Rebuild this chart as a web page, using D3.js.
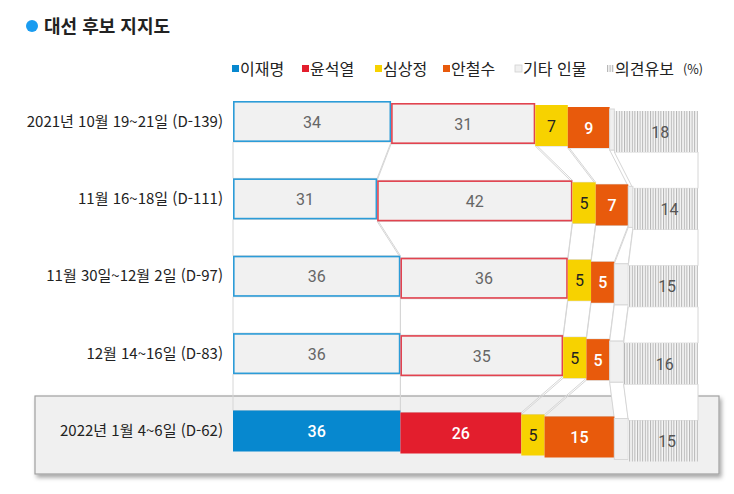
<!DOCTYPE html>
<html lang="ko">
<head>
<meta charset="UTF-8">
<title>대선 후보 지지도</title>
<script src="https://d3js.org/d3.v7.min.js"></script>
<style>
  body { margin: 0; background: #fff; }
  svg text { font-family: "Noto Sans CJK KR", "Noto Sans", sans-serif; }
  .num { font-family: Roboto, "Noto Sans", sans-serif; font-size: 16px; }
</style>
</head>
<body>
<svg id="chart" width="734" height="494"></svg>
<script>
  // survey periods (rows)
  const periods = [
    "2021년 10월 19~21일 (D-139)",
    "11월 16~18일 (D-111)",
    "11월 30일~12월 2일 (D-97)",
    "12월 14~16일 (D-83)",
    "2022년 1월 4~6일 (D-62)"
  ];
  const candidates = ["이재명", "윤석열", "심상정", "안철수", "기타 인물", "의견유보"];

  // values in %
  const lee = [34, 31, 36, 36, 36];
  const yoon = [31, 42, 36, 35, 26];
  const sim = [7, 5, 5, 5, 5];
  const ahn = [9, 7, 5, 5, 15];
  const others = [1, 1, 3, 3, 3];
  const undecided = [18, 14, 15, 16, 15];

  const table = periods.map((p, i) => ({
    period: p,
    "이재명": lee[i], "윤석열": yoon[i], "심상정": sim[i],
    "안철수": ahn[i], "기타 인물": others[i], "의견유보": undecided[i]
  }));

  const svg = d3.select("#chart");
  const barH = 41;
  const step = 2; // each segment drops a little (stair look)
  const last = periods.length - 1;

  const x = d3.scaleLinear().domain([0, 100]).range([233, 698]);
  const y = d3.scalePoint().domain(periods).range([101, 410.5]);

  const stacked = d3.stack().keys(candidates)(table);

  const solid = { "이재명": "#0788cf", "윤석열": "#e31e2d", "심상정": "#f7d200", "안철수": "#e85a0c" };
  const edge = { "이재명": "#2c9cd8", "윤석열": "#e2434f" };

  const defs = svg.append("defs");
  const pat = defs.append("pattern")
    .attr("id", "hatch")
    .attr("patternUnits", "userSpaceOnUse")
    .attr("width", 2.6).attr("height", 6);
  pat.append("rect").attr("width", 2.6).attr("height", 6).attr("fill", "#f6f6f6");
  pat.append("rect").attr("width", 1).attr("height", 6).attr("fill", "#b4b4b4");

  const shadow = defs.append("filter").attr("id", "shadow")
    .attr("x", "-5%").attr("y", "-20%").attr("width", "115%").attr("height", "150%");
  shadow.append("feDropShadow")
    .attr("dx", 2).attr("dy", 3).attr("stdDeviation", 2)
    .attr("flood-color", "#000").attr("flood-opacity", 0.35);

  // title
  svg.append("circle").attr("cx", 32).attr("cy", 26).attr("r", 6).attr("fill", "#1a9cf0");
  svg.append("text").attr("x", 44).attr("y", 33)
    .attr("font-size", 18).attr("font-weight", "bold").attr("fill", "#222")
    .text("대선 후보 지지도");

  // legend
  const legendX = [232, 302, 375, 443, 515, 607];
  const legend = svg.append("g").selectAll("g")
    .data(candidates).join("g")
    .attr("transform", (d, i) => `translate(${legendX[i]},0)`);
  legend.append("rect")
    .attr("x", 0).attr("y", 65).attr("width", 7).attr("height", 7)
    .attr("fill", d => d === "기타 인물" ? "#f0f0f0" : d === "의견유보" ? "url(#hatch)" : solid[d])
    .attr("stroke", d => d === "기타 인물" ? "#d0d0d0" : "none")
    .attr("stroke-width", 0.8);
  legend.append("text")
    .attr("x", 8).attr("y", 74.5).attr("font-size", 16).attr("fill", "#222")
    .text(d => d);
  svg.append("text").attr("x", 703).attr("y", 74).attr("text-anchor", "end")
    .attr("font-size", 12.5).attr("fill", "#222").text("(%)");

  // highlight box for the latest survey
  svg.append("rect")
    .attr("x", 35).attr("y", 396).attr("width", 684).attr("height", 78)
    .attr("fill", "#f0f0f0").attr("stroke", "#a0a0a0").attr("stroke-width", 1.2)
    .attr("filter", "url(#shadow)");

  // connecting bands between rows
  const bands = svg.append("g");
  stacked.forEach((layer, k) => {
    for (let i = 0; i < last; i++) {
      const a = layer[i], b = layer[i + 1];
      const yTop = y(periods[i]) + k * step + barH;
      const yBot = y(periods[i + 1]) + k * step;
      const pts = [[x(a[0]), yTop], [x(a[1]), yTop], [x(b[1]), yBot], [x(b[0]), yBot]];
      bands.append("polygon")
        .attr("points", pts.map(p => p.join(",")).join(" "))
        .attr("fill", k >= 4 ? "#fff" : "none")
        .attr("stroke", "#d6d6d6").attr("stroke-width", 1);
    }
  });

  // bars
  const bars = svg.append("g");
  stacked.forEach((layer, k) => {
    const key = layer.key;
    layer.forEach((d, i) => {
      const isLast = i === last;
      const x0 = x(d[0]), w = x(d[1]) - x(d[0]);
      const y0 = y(periods[i]) + k * step;
      let fill, stroke = "none";
      if (key === "의견유보") fill = "url(#hatch)";
      else if (key === "기타 인물") { fill = "#f0f0f0"; stroke = "#d8d8d8"; }
      else if (key === "이재명" || key === "윤석열") {
        fill = isLast ? solid[key] : "#f1f1f1";
        if (!isLast) stroke = edge[key];
      } else fill = solid[key];
      const inset = stroke !== "none" && key !== "기타 인물" ? 0.8 : 0;
      bars.append("rect")
        .attr("x", x0 + inset).attr("y", y0 + inset)
        .attr("width", w - 2 * inset).attr("height", barH - 2 * inset)
        .attr("fill", fill).attr("stroke", stroke)
        .attr("stroke-width", key === "기타 인물" ? 1 : 1.6);

      if (key === "기타 인물") return;
      let color = "#666";
      if (key === "심상정") color = "#222";
      else if (key === "안철수") color = "#fff";
      else if (isLast && (key === "이재명" || key === "윤석열")) color = "#fff";
      else if (key === "의견유보") color = "#555";
      bars.append("text")
        .attr("class", "num")
        .attr("x", x0 + w / 2 + (key === "의견유보" ? 4 : 0))
        .attr("y", y0 + barH / 2 + 6)
        .attr("text-anchor", "middle")
        .attr("fill", color)
        .attr("font-weight", (key === "안철수" || (isLast && k < 2)) ? 500 : 400)
        .text(d.data[key]);
    });
  });

  // row labels
  svg.append("g").selectAll("text")
    .data(periods).join("text")
    .attr("x", 223)
    .attr("y", d => y(d) + barH / 2 + 5)
    .attr("text-anchor", "end")
    .attr("font-size", 15).attr("fill", "#222")
    .text(d => d);
</script>
</body>
</html>
